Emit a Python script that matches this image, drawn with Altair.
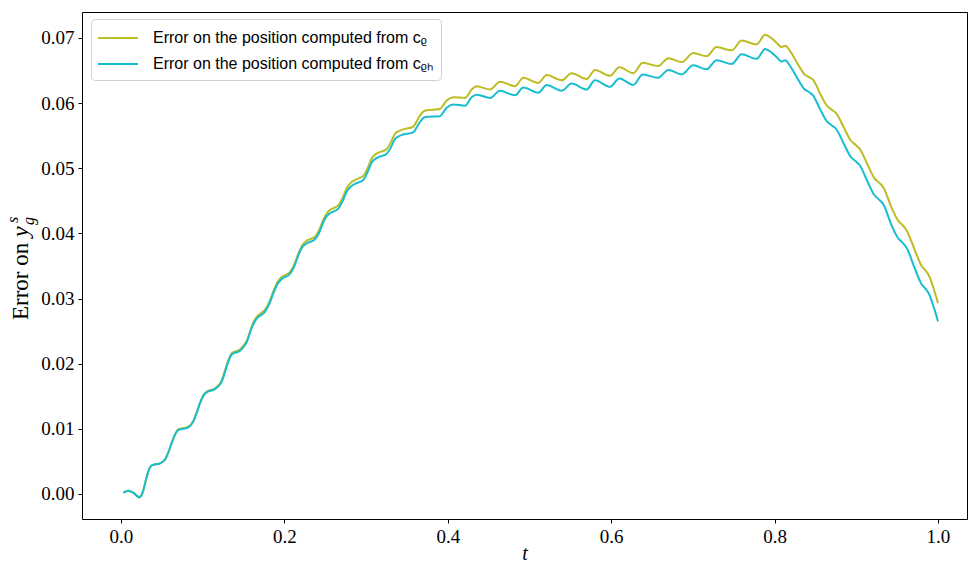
import altair as alt
import pandas as pd

# ---- data ----
T = [0.003, 0.009, 0.015, 0.0224, 0.027, 0.0306, 0.0345, 0.0375, 0.0477, 0.0539,
     0.058, 0.062, 0.0665, 0.070, 0.082, 0.0885, 0.0925, 0.0967, 0.101, 0.1049,
     0.115, 0.1232, 0.1294, 0.1325, 0.1355, 0.1457, 0.1539, 0.160, 0.163, 0.1661,
     0.1763, 0.182, 0.1865, 0.192, 0.1967, 0.2069, 0.212, 0.217, 0.2215, 0.2252,
     0.2375, 0.2425, 0.2476, 0.252, 0.2558, 0.266, 0.271, 0.2762, 0.2815, 0.2864,
     0.2966, 0.3015, 0.3068, 0.311, 0.315, 0.325, 0.330, 0.3354, 0.340, 0.3436,
     0.3578, 0.362, 0.366, 0.370, 0.374, 0.3905, 0.3945, 0.3987, 0.4068, 0.421,
     0.4292, 0.4354, 0.4517, 0.4639, 0.4823, 0.4924, 0.5108, 0.521, 0.5394, 0.5516,
     0.570, 0.5802, 0.5985, 0.610, 0.627, 0.6385, 0.6573, 0.670, 0.6863, 0.7005,
     0.7169, 0.729, 0.7475, 0.7597, 0.778, 0.7883, 0.796, 0.803, 0.8085, 0.813,
     0.819, 0.828, 0.836, 0.842, 0.847, 0.856, 0.864, 0.8697, 0.875, 0.885,
     0.893, 0.899, 0.904, 0.914, 0.922, 0.9278, 0.933, 0.943, 0.951, 0.9565,
     0.9615, 0.972, 0.980, 0.9841, 0.989, 0.995, 1.000]

Y_RHO = [0.0002, 0.0005, 0.0002, -0.0005, 0.0004, 0.0022, 0.0038, 0.0044, 0.0047, 0.0053,
         0.0064, 0.0078, 0.0092, 0.0099, 0.0103, 0.0112, 0.0125, 0.0140, 0.0152, 0.0157,
         0.0162, 0.0174, 0.0198, 0.0209, 0.0216, 0.0222, 0.0235, 0.0257, 0.0266, 0.0272,
         0.0283, 0.0296, 0.0311, 0.0326, 0.0333, 0.0341, 0.0352, 0.0369, 0.0381, 0.0387,
         0.0395, 0.0405, 0.0421, 0.0431, 0.0436, 0.0443, 0.0454, 0.0469, 0.0478, 0.0482,
         0.0488, 0.0499, 0.0515, 0.0521, 0.0524, 0.0529, 0.0539, 0.0553, 0.0557, 0.0559,
         0.0564, 0.0572, 0.0581, 0.0587, 0.0589, 0.0591, 0.0597, 0.0604, 0.0609, 0.0608,
         0.0621, 0.0626, 0.0621, 0.0633, 0.0626, 0.0639, 0.0631, 0.0643, 0.0635, 0.0646,
         0.0637, 0.0651, 0.0642, 0.0655, 0.0646, 0.0662, 0.0657, 0.0669, 0.0663, 0.0677,
         0.0672, 0.0686, 0.0681, 0.0696, 0.0690, 0.0705, 0.0700, 0.0692, 0.0686, 0.0688,
         0.0680, 0.0661, 0.0645, 0.0640, 0.0636, 0.0614, 0.0596, 0.0590, 0.0585, 0.0562,
         0.0543, 0.0536, 0.0530, 0.0505, 0.0485, 0.0478, 0.0471, 0.0440, 0.0420, 0.0413,
         0.0405, 0.0373, 0.0350, 0.0344, 0.0335, 0.0314, 0.0293]

Y_RHOH = [0.0002, 0.0005, 0.0002, -0.0005, 0.0004, 0.0022, 0.0038, 0.0044, 0.0047, 0.0053,
          0.0064, 0.0078, 0.0092, 0.0098, 0.0102, 0.0111, 0.0124, 0.0139, 0.0151, 0.0156,
          0.0161, 0.0172, 0.0196, 0.0207, 0.0214, 0.0220, 0.0233, 0.0255, 0.0263, 0.0269,
          0.0280, 0.0293, 0.0308, 0.0323, 0.0330, 0.0338, 0.0349, 0.0366, 0.0378, 0.0383,
          0.0391, 0.0401, 0.0417, 0.0427, 0.0431, 0.0438, 0.0449, 0.0464, 0.0472, 0.0476,
          0.0482, 0.0493, 0.0509, 0.0514, 0.0517, 0.0522, 0.0531, 0.0545, 0.0549, 0.0551,
          0.0555, 0.0563, 0.0571, 0.0577, 0.0579, 0.0580, 0.0586, 0.0593, 0.0598, 0.0596,
          0.0609, 0.0613, 0.0608, 0.0619, 0.0612, 0.0624, 0.0616, 0.0628, 0.0619, 0.0630,
          0.0621, 0.0635, 0.0625, 0.0638, 0.0628, 0.0644, 0.0639, 0.0651, 0.0644, 0.0658,
          0.0652, 0.0666, 0.0660, 0.0675, 0.0668, 0.0683, 0.0678, 0.0670, 0.0664, 0.0666,
          0.0657, 0.0638, 0.0622, 0.0617, 0.0612, 0.0590, 0.0572, 0.0566, 0.0561, 0.0537,
          0.0518, 0.0511, 0.0505, 0.0479, 0.0459, 0.0452, 0.0445, 0.0413, 0.0393, 0.0386,
          0.0378, 0.0345, 0.0322, 0.0316, 0.0307, 0.0286, 0.0265]

SERIES = ["Error on the position computed from c\u1d68",
          "Error on the position computed from c\u1d68\u2095"]
COLORS = ["#bcbd22", "#17becf"]
X_TICKS = [0.0, 0.2, 0.4, 0.6, 0.8, 1.0]
Y_TICKS = [0.00, 0.01, 0.02, 0.03, 0.04, 0.05, 0.06, 0.07]

n = len(T)
df = pd.DataFrame({
    "t": T + T,
    "err": Y_RHO + Y_RHOH,
    "series": [SERIES[0]] * n + [SERIES[1]] * n,
})

SERIF = "Liberation Serif"

lines = alt.Chart(df).mark_line(strokeWidth=2, interpolate="monotone", clip=True).encode(
    x=alt.X("t:Q",
            scale=alt.Scale(domain=[-0.0477, 1.0355], nice=False, zero=False),
            axis=alt.Axis(values=X_TICKS, format=".1f", title="t",
                          titleFont=SERIF, titleFontStyle="italic", titleFontWeight="normal",
                          titleFontSize=20, titleColor="black",
                          titleBaseline="alphabetic", titleY=40)),
    y=alt.Y("err:Q",
            scale=alt.Scale(domain=[-0.00384, 0.07399], nice=False, zero=False),
            axis=alt.Axis(values=Y_TICKS, format=".2f", title=None)),
    color=alt.Color("series:N",
                    scale=alt.Scale(domain=SERIES, range=COLORS),
                    legend=alt.Legend(title=None, orient="none", legendX=9, legendY=7,
                                      symbolType="M-2,0L2,0", symbolSize=400,
                                      symbolOffset=8,
                                      symbolStrokeWidth=2, labelFont="Liberation Sans",
                                      labelFontSize=16, labelColor="black", labelLimit=500,
                                      labelOffset=24, rowPadding=7, padding=8,
                                      fillColor="white", strokeColor="#d0d0d0",
                                      cornerRadius=4)),
)

ytitle_main = alt.Chart(pd.DataFrame({"txt": ["Error on"]})).mark_text(
    angle=270, align="left", baseline="alphabetic",
    font=SERIF, fontSize=23, color="black").encode(
    text="txt:N", x=alt.value(-54), y=alt.value(308))
ytitle_y = alt.Chart(pd.DataFrame({"txt": ["y"]})).mark_text(
    angle=270, align="left", baseline="alphabetic", font=SERIF, fontSize=24,
    fontStyle="italic", color="black").encode(text="txt:N", x=alt.value(-54), y=alt.value(225))
ytitle_s = alt.Chart(pd.DataFrame({"txt": ["s"]})).mark_text(
    angle=270, align="left", baseline="alphabetic", font=SERIF, fontSize=16,
    fontStyle="italic", color="black").encode(text="txt:N", x=alt.value(-64), y=alt.value(211))
ytitle_g = alt.Chart(pd.DataFrame({"txt": ["g"]})).mark_text(
    angle=270, align="left", baseline="alphabetic", font=SERIF, fontSize=16,
    fontStyle="italic", color="black").encode(text="txt:N", x=alt.value(-48), y=alt.value(213))

chart = alt.layer(lines, ytitle_main, ytitle_y, ytitle_s, ytitle_g).properties(
    width=885, height=507,
    padding={"left": 82, "top": 12, "right": 1, "bottom": 45},
    autosize=alt.AutoSizeParams(type="none"),
    background="white",
).configure_view(stroke="black", strokeWidth=1).configure_axis(
    grid=False, domain=False, ticks=True, tickColor="black", tickSize=4, tickWidth=1,
    labelFont=SERIF, labelFontSize=19, labelColor="black", labelPadding=4,
)

chart.save("out.html", embed_options={"renderer": "svg", "actions": False})
